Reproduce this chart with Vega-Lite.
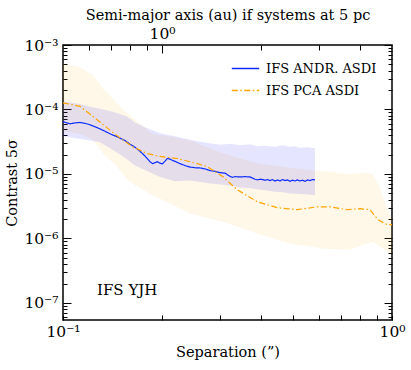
{
  "$schema": "https://vega.github.io/schema/vega-lite/v6.json",
  "width": 329,
  "height": 275,
  "autosize": {"type": "none"},
  "padding": {"left": 63, "top": 45, "right": 19, "bottom": 50},
  "background": "white",
  "config": {
    "view": {"stroke": "black", "strokeWidth": 1.5},
    "axis": {
      "grid": false,
      "domain": false,
      "tickColor": "black",
      "tickWidth": 1,
      "labelFont": "DejaVu Serif",
      "titleFont": "DejaVu Serif",
      "labelFontSize": 15.5,
      "titleFontSize": 14.5,
      "titleFontWeight": "normal",
      "labelColor": "black",
      "titleColor": "black"
    },
    "legend": {
      "labelFont": "DejaVu Serif",
      "labelFontSize": 13,
      "labelColor": "black"
    }
  },
  "datasets": {
    "pca_band": [
      {"sep": 0.1, "lo": 4.6e-5, "hi": 5.2e-4},
      {"sep": 0.1126, "lo": 4.2e-5, "hi": 4.5e-4},
      {"sep": 0.1234, "lo": 3.4e-5, "hi": 3.4e-4},
      {"sep": 0.1323, "lo": 2.1e-5, "hi": 2.1e-4},
      {"sep": 0.1459, "lo": 1.31e-5, "hi": 1.26e-4},
      {"sep": 0.1564, "lo": 8.3e-6, "hi": 8.8e-5},
      {"sep": 0.1679, "lo": 6.4e-6, "hi": 6.6e-5},
      {"sep": 0.1877, "lo": 4.7e-6, "hi": 4.1e-5},
      {"sep": 0.2115, "lo": 3.5e-6, "hi": 3.85e-5},
      {"sep": 0.2432, "lo": 2.45e-6, "hi": 3.3e-5},
      {"sep": 0.3064, "lo": 1.82e-6, "hi": 2.1e-5},
      {"sep": 0.3888, "lo": 1.2e-6, "hi": 1.47e-5},
      {"sep": 0.4897, "lo": 8.4e-7, "hi": 1.25e-5},
      {"sep": 0.6166, "lo": 7.0e-7, "hi": 1.1e-5},
      {"sep": 0.7445, "lo": 6.7e-7, "hi": 9.9e-6},
      {"sep": 0.816, "lo": 7.9e-7, "hi": 1.05e-5},
      {"sep": 0.8757, "lo": 8.8e-7, "hi": 9.9e-6},
      {"sep": 0.9192, "lo": 7.5e-7, "hi": 6.0e-6},
      {"sep": 0.9659, "lo": 6.3e-7, "hi": 2.9e-6},
      {"sep": 1.0, "lo": 5.8e-7, "hi": 2.0e-6}
    ],
    "andr_band": [
      {"sep": 0.1, "lo": 3.9e-5, "hi": 1.34e-4},
      {"sep": 0.1126, "lo": 3.5e-5, "hi": 1.22e-4},
      {"sep": 0.1208, "lo": 3.3e-5, "hi": 1.1e-4},
      {"sep": 0.1296, "lo": 3.1e-5, "hi": 1.03e-4},
      {"sep": 0.1389, "lo": 2.5e-5, "hi": 9.5e-5},
      {"sep": 0.149, "lo": 2.0e-5, "hi": 8.5e-5},
      {"sep": 0.1565, "lo": 1.7e-5, "hi": 7.8e-5},
      {"sep": 0.1655, "lo": 1.35e-5, "hi": 6.3e-5},
      {"sep": 0.1775, "lo": 1.15e-5, "hi": 5.3e-5},
      {"sep": 0.1972, "lo": 9.0e-6, "hi": 4.3e-5},
      {"sep": 0.219, "lo": 7.7e-6, "hi": 3.85e-5},
      {"sep": 0.2432, "lo": 7.9e-6, "hi": 3.4e-5},
      {"sep": 0.2609, "lo": 7.5e-6, "hi": 3.15e-5},
      {"sep": 0.2798, "lo": 7.1e-6, "hi": 3.0e-5},
      {"sep": 0.3001, "lo": 6.9e-6, "hi": 2.85e-5},
      {"sep": 0.3218, "lo": 6.6e-6, "hi": 2.95e-5},
      {"sep": 0.3451, "lo": 6.2e-6, "hi": 2.8e-5},
      {"sep": 0.3702, "lo": 6.0e-6, "hi": 2.9e-5},
      {"sep": 0.3888, "lo": 5.8e-6, "hi": 2.7e-5},
      {"sep": 0.4111, "lo": 5.6e-6, "hi": 2.75e-5},
      {"sep": 0.4409, "lo": 5.3e-6, "hi": 2.65e-5},
      {"sep": 0.4647, "lo": 5.2e-6, "hi": 2.8e-5},
      {"sep": 0.4897, "lo": 5.0e-6, "hi": 2.65e-5},
      {"sep": 0.5072, "lo": 4.95e-6, "hi": 2.7e-5},
      {"sep": 0.5252, "lo": 4.9e-6, "hi": 2.55e-5},
      {"sep": 0.5535, "lo": 4.8e-6, "hi": 2.6e-5},
      {"sep": 0.5833, "lo": 4.7e-6, "hi": 2.5e-5}
    ],
    "lines": [
      {"sep": 0.1, "contrast": 6.5e-5, "series": "IFS ANDR. ASDI"},
      {"sep": 0.1028, "contrast": 6.2e-5, "series": "IFS ANDR. ASDI"},
      {"sep": 0.105, "contrast": 6.0e-5, "series": "IFS ANDR. ASDI"},
      {"sep": 0.1088, "contrast": 6.2e-5, "series": "IFS ANDR. ASDI"},
      {"sep": 0.1126, "contrast": 6.3e-5, "series": "IFS ANDR. ASDI"},
      {"sep": 0.1166, "contrast": 6.1e-5, "series": "IFS ANDR. ASDI"},
      {"sep": 0.1208, "contrast": 5.8e-5, "series": "IFS ANDR. ASDI"},
      {"sep": 0.1251, "contrast": 5.4e-5, "series": "IFS ANDR. ASDI"},
      {"sep": 0.1296, "contrast": 5.0e-5, "series": "IFS ANDR. ASDI"},
      {"sep": 0.1342, "contrast": 4.6e-5, "series": "IFS ANDR. ASDI"},
      {"sep": 0.1389, "contrast": 4.2e-5, "series": "IFS ANDR. ASDI"},
      {"sep": 0.1439, "contrast": 3.9e-5, "series": "IFS ANDR. ASDI"},
      {"sep": 0.149, "contrast": 3.6e-5, "series": "IFS ANDR. ASDI"},
      {"sep": 0.1543, "contrast": 3.3e-5, "series": "IFS ANDR. ASDI"},
      {"sep": 0.1598, "contrast": 2.9e-5, "series": "IFS ANDR. ASDI"},
      {"sep": 0.1655, "contrast": 2.6e-5, "series": "IFS ANDR. ASDI"},
      {"sep": 0.1714, "contrast": 2.25e-5, "series": "IFS ANDR. ASDI"},
      {"sep": 0.1775, "contrast": 1.9e-5, "series": "IFS ANDR. ASDI"},
      {"sep": 0.1838, "contrast": 1.55e-5, "series": "IFS ANDR. ASDI"},
      {"sep": 0.1871, "contrast": 1.45e-5, "series": "IFS ANDR. ASDI"},
      {"sep": 0.1904, "contrast": 1.5e-5, "series": "IFS ANDR. ASDI"},
      {"sep": 0.1938, "contrast": 1.55e-5, "series": "IFS ANDR. ASDI"},
      {"sep": 0.1972, "contrast": 1.47e-5, "series": "IFS ANDR. ASDI"},
      {"sep": 0.2006, "contrast": 1.44e-5, "series": "IFS ANDR. ASDI"},
      {"sep": 0.2042, "contrast": 1.58e-5, "series": "IFS ANDR. ASDI"},
      {"sep": 0.2078, "contrast": 1.75e-5, "series": "IFS ANDR. ASDI"},
      {"sep": 0.2115, "contrast": 1.7e-5, "series": "IFS ANDR. ASDI"},
      {"sep": 0.2152, "contrast": 1.62e-5, "series": "IFS ANDR. ASDI"},
      {"sep": 0.219, "contrast": 1.57e-5, "series": "IFS ANDR. ASDI"},
      {"sep": 0.2268, "contrast": 1.45e-5, "series": "IFS ANDR. ASDI"},
      {"sep": 0.2349, "contrast": 1.35e-5, "series": "IFS ANDR. ASDI"},
      {"sep": 0.2432, "contrast": 1.28e-5, "series": "IFS ANDR. ASDI"},
      {"sep": 0.2519, "contrast": 1.25e-5, "series": "IFS ANDR. ASDI"},
      {"sep": 0.2609, "contrast": 1.24e-5, "series": "IFS ANDR. ASDI"},
      {"sep": 0.2702, "contrast": 1.2e-5, "series": "IFS ANDR. ASDI"},
      {"sep": 0.2798, "contrast": 1.13e-5, "series": "IFS ANDR. ASDI"},
      {"sep": 0.2897, "contrast": 1.1e-5, "series": "IFS ANDR. ASDI"},
      {"sep": 0.3001, "contrast": 1.05e-5, "series": "IFS ANDR. ASDI"},
      {"sep": 0.3107, "contrast": 1.03e-5, "series": "IFS ANDR. ASDI"},
      {"sep": 0.3218, "contrast": 9.2e-6, "series": "IFS ANDR. ASDI"},
      {"sep": 0.3274, "contrast": 8.9e-6, "series": "IFS ANDR. ASDI"},
      {"sep": 0.3333, "contrast": 9.1e-6, "series": "IFS ANDR. ASDI"},
      {"sep": 0.3451, "contrast": 9.0e-6, "series": "IFS ANDR. ASDI"},
      {"sep": 0.3574, "contrast": 9.1e-6, "series": "IFS ANDR. ASDI"},
      {"sep": 0.3702, "contrast": 9.0e-6, "series": "IFS ANDR. ASDI"},
      {"sep": 0.3833, "contrast": 8.3e-6, "series": "IFS ANDR. ASDI"},
      {"sep": 0.3902, "contrast": 8.1e-6, "series": "IFS ANDR. ASDI"},
      {"sep": 0.397, "contrast": 8.3e-6, "series": "IFS ANDR. ASDI"},
      {"sep": 0.404, "contrast": 8.2e-6, "series": "IFS ANDR. ASDI"},
      {"sep": 0.4111, "contrast": 8.0e-6, "series": "IFS ANDR. ASDI"},
      {"sep": 0.4184, "contrast": 8.2e-6, "series": "IFS ANDR. ASDI"},
      {"sep": 0.4258, "contrast": 7.9e-6, "series": "IFS ANDR. ASDI"},
      {"sep": 0.4333, "contrast": 8.2e-6, "series": "IFS ANDR. ASDI"},
      {"sep": 0.4409, "contrast": 7.8e-6, "series": "IFS ANDR. ASDI"},
      {"sep": 0.4487, "contrast": 8.1e-6, "series": "IFS ANDR. ASDI"},
      {"sep": 0.4566, "contrast": 7.8e-6, "series": "IFS ANDR. ASDI"},
      {"sep": 0.4647, "contrast": 8.2e-6, "series": "IFS ANDR. ASDI"},
      {"sep": 0.4729, "contrast": 7.9e-6, "series": "IFS ANDR. ASDI"},
      {"sep": 0.4812, "contrast": 8.1e-6, "series": "IFS ANDR. ASDI"},
      {"sep": 0.4897, "contrast": 7.7e-6, "series": "IFS ANDR. ASDI"},
      {"sep": 0.4984, "contrast": 8.0e-6, "series": "IFS ANDR. ASDI"},
      {"sep": 0.5072, "contrast": 7.8e-6, "series": "IFS ANDR. ASDI"},
      {"sep": 0.5161, "contrast": 8.1e-6, "series": "IFS ANDR. ASDI"},
      {"sep": 0.5252, "contrast": 7.8e-6, "series": "IFS ANDR. ASDI"},
      {"sep": 0.5345, "contrast": 8.0e-6, "series": "IFS ANDR. ASDI"},
      {"sep": 0.5439, "contrast": 7.7e-6, "series": "IFS ANDR. ASDI"},
      {"sep": 0.5535, "contrast": 8.1e-6, "series": "IFS ANDR. ASDI"},
      {"sep": 0.5633, "contrast": 7.9e-6, "series": "IFS ANDR. ASDI"},
      {"sep": 0.5732, "contrast": 8.2e-6, "series": "IFS ANDR. ASDI"},
      {"sep": 0.5833, "contrast": 8.1e-6, "series": "IFS ANDR. ASDI"},
      {"sep": 0.1, "contrast": 1.27e-4, "series": "IFS PCA ASDI"},
      {"sep": 0.1126, "contrast": 1.12e-4, "series": "IFS PCA ASDI"},
      {"sep": 0.1234, "contrast": 7.8e-5, "series": "IFS PCA ASDI"},
      {"sep": 0.1342, "contrast": 5.5e-5, "series": "IFS PCA ASDI"},
      {"sep": 0.1469, "contrast": 3.83e-5, "series": "IFS PCA ASDI"},
      {"sep": 0.1621, "contrast": 2.68e-5, "series": "IFS PCA ASDI"},
      {"sep": 0.18, "contrast": 2.08e-5, "series": "IFS PCA ASDI"},
      {"sep": 0.1972, "contrast": 1.87e-5, "series": "IFS PCA ASDI"},
      {"sep": 0.2221, "contrast": 1.74e-5, "series": "IFS PCA ASDI"},
      {"sep": 0.2484, "contrast": 1.51e-5, "series": "IFS PCA ASDI"},
      {"sep": 0.274, "contrast": 1.31e-5, "series": "IFS PCA ASDI"},
      {"sep": 0.3064, "contrast": 9.1e-6, "series": "IFS PCA ASDI"},
      {"sep": 0.3378, "contrast": 5.74e-6, "series": "IFS PCA ASDI"},
      {"sep": 0.3888, "contrast": 3.73e-6, "series": "IFS PCA ASDI"},
      {"sep": 0.4473, "contrast": 3.01e-6, "series": "IFS PCA ASDI"},
      {"sep": 0.515, "contrast": 2.8e-6, "series": "IFS PCA ASDI"},
      {"sep": 0.5933, "contrast": 3.1e-6, "series": "IFS PCA ASDI"},
      {"sep": 0.6479, "contrast": 3.1e-6, "series": "IFS PCA ASDI"},
      {"sep": 0.7302, "contrast": 2.8e-6, "series": "IFS PCA ASDI"},
      {"sep": 0.7995, "contrast": 2.9e-6, "series": "IFS PCA ASDI"},
      {"sep": 0.8574, "contrast": 2.8e-6, "series": "IFS PCA ASDI"},
      {"sep": 0.9058, "contrast": 1.96e-6, "series": "IFS PCA ASDI"},
      {"sep": 0.9659, "contrast": 1.64e-6, "series": "IFS PCA ASDI"},
      {"sep": 1.0, "contrast": 1.64e-6, "series": "IFS PCA ASDI"}
    ],
    "label": [
      {"sep": 0.1269, "contrast": 1.6e-7, "text": "IFS YJH"}
    ]
  },
  "resolve": {"axis": {"x": "independent", "y": "independent"}},
  "layer": [
    {
      "data": {"name": "pca_band"},
      "mark": {"type": "area", "color": "#ffa500", "opacity": 0.09},
      "encoding": {
        "x": {
          "field": "sep", "type": "quantitative",
          "scale": {"type": "log", "domain": [0.1, 1.0], "nice": false},
          "axis": {
            "orient": "bottom",
            "values": [0.1, 0.2, 0.3, 0.4, 0.5, 0.6, 0.7, 0.8, 0.9, 1.0],
            "tickSize": -5,
            "labelPadding": 9,
            "labelExpr": "datum.value < 0.11 ? '10⁻¹' : (datum.value > 0.99 ? '10⁰' : '')",
            "labelFlush": false,
            "labelOverlap": false,
            "title": "Separation (”)",
            "titlePadding": 6
          }
        },
        "y": {
          "field": "hi", "type": "quantitative",
          "scale": {"type": "log", "domain": [5.45e-8, 1e-3], "nice": false},
          "axis": {
            "orient": "left",
            "values": [1e-7, 1e-6, 1e-5, 1e-4, 1e-3],
            "tickSize": -8,
            "labelPadding": 13,
            "labelExpr": "'10⁻' + ['⁰','¹','²','³','⁴','⁵','⁶','⁷','⁸','⁹'][abs(round(log(datum.value)/LN10))]",
            "labelFlush": false,
            "labelOverlap": false,
            "title": "Contrast 5σ",
            "titlePadding": 4
          }
        },
        "y2": {"field": "lo"}
      }
    },
    {
      "data": {"name": "andr_band"},
      "mark": {"type": "area", "color": "#0000ff", "opacity": 0.1},
      "encoding": {
        "x": {"field": "sep", "type": "quantitative", "axis": null},
        "y": {
          "field": "hi", "type": "quantitative",
          "axis": {
            "orient": "right",
            "values": [6e-8, 7e-8, 8e-8, 9e-8, 2e-7, 3e-7, 4e-7, 5e-7, 6e-7, 7e-7, 8e-7, 9e-7, 2e-6, 3e-6, 4e-6, 5e-6, 6e-6, 7e-6, 8e-6, 9e-6, 2e-5, 3e-5, 4e-5, 5e-5, 6e-5, 7e-5, 8e-5, 9e-5, 2e-4, 3e-4, 4e-4, 5e-4, 6e-4, 7e-4, 8e-4, 9e-4],
            "tickSize": -4,
            "labels": false,
            "title": null
          }
        },
        "y2": {"field": "lo"}
      }
    },
    {
      "data": {"name": "lines"},
      "mark": {"type": "line", "strokeWidth": 1.2},
      "encoding": {
        "x": {
          "field": "sep", "type": "quantitative",
          "axis": {
            "orient": "top",
            "values": [0.2],
            "tickSize": -8,
            "labelPadding": 12,
            "labelExpr": "'10⁰'",
            "title": "Semi-major axis (au) if systems at 5 pc",
            "titlePadding": 4
          }
        },
        "y": {
          "field": "contrast", "type": "quantitative",
          "axis": {
            "orient": "right",
            "values": [1e-7, 1e-6, 1e-5, 1e-4, 1e-3],
            "tickSize": -8,
            "labels": false,
            "title": null
          }
        },
        "color": {
          "field": "series", "type": "nominal",
          "scale": {"domain": ["IFS ANDR. ASDI", "IFS PCA ASDI"], "range": ["#0a2aff", "#ffa500"]},
          "legend": {
            "title": null,
            "orient": "none",
            "legendX": 168,
            "legendY": 9,
            "symbolType": "stroke",
            "symbolSize": 750,
            "symbolStrokeWidth": 1.3,
            "labelOffset": 6,
            "rowPadding": 0
          }
        },
        "strokeDash": {
          "field": "series", "type": "nominal",
          "scale": {"domain": ["IFS ANDR. ASDI", "IFS PCA ASDI"], "range": [[1, 0], [6, 2.5, 1.5, 2.5]]},
          "legend": {
            "title": null,
            "orient": "none",
            "legendX": 168,
            "legendY": 9,
            "symbolType": "stroke",
            "symbolSize": 750,
            "symbolStrokeWidth": 1.3,
            "labelOffset": 6,
            "rowPadding": 0
          }
        }
      }
    },
    {
      "data": {"name": "label"},
      "mark": {"type": "text", "align": "left", "baseline": "middle", "font": "DejaVu Serif", "fontSize": 15, "color": "black"},
      "encoding": {
        "x": {
          "field": "sep", "type": "quantitative",
          "axis": {
            "orient": "top",
            "values": [0.12, 0.14, 0.16, 0.18, 0.4, 0.6, 0.8],
            "tickSize": -5,
            "labels": false,
            "title": null
          }
        },
        "y": {
          "field": "contrast", "type": "quantitative",
          "axis": {
            "orient": "left",
            "values": [6e-8, 7e-8, 8e-8, 9e-8, 2e-7, 3e-7, 4e-7, 5e-7, 6e-7, 7e-7, 8e-7, 9e-7, 2e-6, 3e-6, 4e-6, 5e-6, 6e-6, 7e-6, 8e-6, 9e-6, 2e-5, 3e-5, 4e-5, 5e-5, 6e-5, 7e-5, 8e-5, 9e-5, 2e-4, 3e-4, 4e-4, 5e-4, 6e-4, 7e-4, 8e-4, 9e-4],
            "tickSize": -4,
            "labels": false,
            "title": null
          }
        },
        "text": {"field": "text"}
      }
    }
  ]
}
